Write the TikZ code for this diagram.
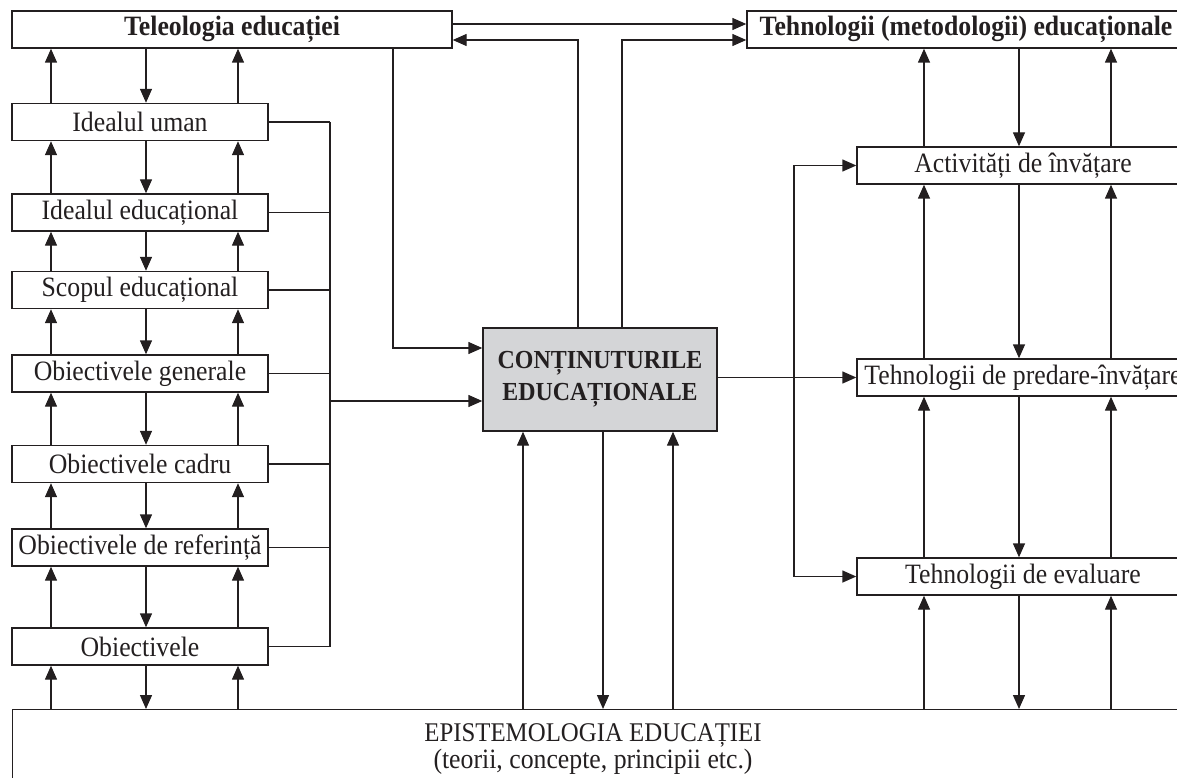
\documentclass[tikz,border=0pt]{standalone}
\usepackage{fontspec}
\setmainfont{Liberation Serif}[FakeStretch=0.92]
\usetikzlibrary{arrows.meta}
\definecolor{ink}{RGB}{35,31,32}
\definecolor{boxgray}{RGB}{212,213,215}
\begin{document}
\begin{tikzpicture}[x=1pt,y=-1pt,
  lnk/.style={draw=ink,line width=1.4pt},
  arr/.style={lnk,-{Triangle[length=14pt,width=12pt]}},
  box/.style={draw=ink,line width=1.4pt,inner sep=0pt,minimum height=37pt,text=ink,font=\fontsize{28}{32}\selectfont},
  lbox/.style={box,minimum width=256pt},
  rbox/.style={box,minimum width=332pt}]
\useasboundingbox (0,0) rectangle (1177,778);
\clip (0,0) rectangle (1177,778);
% nodes
\node[box,minimum width=440pt] (teleo) at (232,29.5) {\textbf{Teleologia educației}};
\node[lbox] (iu) at (140,122) {Idealul uman};
\node[lbox] (ie) at (140,212.5) {Idealul educațional};
\node[lbox] (se) at (140,290) {Scopul educațional};
\node[lbox] (og) at (140,373.5) {Obiectivele generale};
\node[lbox] (oc) at (140,464) {Obiectivele cadru};
\node[lbox] (oref) at (140,547.5) {Obiectivele de referință};
\node[lbox] (ob) at (140,646.5) {Obiectivele};
\node[box,minimum width=438pt] (tech) at (966,29.5) {\textbf{Tehnologii (metodologii) educaționale}};
\node[rbox] (act) at (1023,165.5) {Activități de învățare};
\node[rbox] (pred) at (1023,377.5) {Tehnologii de predare-învățare};
\node[rbox] (eval) at (1023,576.5) {Tehnologii de evaluare};
\node[box,fill=boxgray,minimum width=234pt,minimum height=103pt,align=center,font=\fontsize{26}{32}\selectfont\bfseries] (cont) at (600,379.5) {CONȚINUTURILE\\EDUCAȚIONALE};
\node[draw=ink,line width=1.4pt,minimum width=1200pt,minimum height=100pt,anchor=north west,inner sep=0pt] (epi) at (12,709) {};
\node[text=ink,align=center,inner sep=0pt,font=\fontsize{27}{24}\selectfont] (epitext) at (593,749) {EPISTEMOLOGIA EDUCAȚIEI\\{\fontsize{28}{24}\selectfont(teorii, concepte, principii etc.)}};
% guide coordinates
\coordinate (LA) at (51,0);
\coordinate (LB) at (146,0);
\coordinate (LC) at (238,0);
\coordinate (LV) at (330,0);
\coordinate (TD) at (393,0);
\coordinate (CA) at (578,0);
\coordinate (CB) at (622,0);
\coordinate (BA) at (523,0);
\coordinate (BB) at (603,0);
\coordinate (BC) at (673,0);
\coordinate (RV) at (794,0);
\coordinate (RA) at (924,0);
\coordinate (RB) at (1019,0);
\coordinate (RC) at (1111,0);
\coordinate (YA) at (0,24);
\coordinate (YB) at (0,40);
\coordinate (YC) at (0,348);
\coordinate (YD) at (0,401);
% left chain
\foreach \u/\l in {teleo/iu,iu/ie,ie/se,se/og,og/oc,oc/oref,oref/ob,ob/epi}{
  \draw[arr] (\l.north -| LA) -- (\u.south -| LA);
  \draw[arr] (\u.south -| LB) -- (\l.north -| LB);
  \draw[arr] (\l.north -| LC) -- (\u.south -| LC);
}
\foreach \n in {iu,ie,se,og,oc,oref,ob}{
  \draw[lnk] (\n.east) -- (\n.east -| LV);
}
\draw[lnk] (iu.east -| LV) -- (ob.east -| LV);
\draw[arr] (YD -| LV) -- (YD -| cont.west);
\draw[arr] (teleo.south -| TD) |- (YC -| cont.west);
% top links
\draw[arr] (teleo.east |- YA) -- (tech.west |- YA);
\draw[arr] (cont.north -| CA) |- (teleo.east |- YB);
\draw[arr] (cont.north -| CB) |- (tech.west |- YB);
% bottom centre
\draw[arr] (epi.north -| BA) -- (cont.south -| BA);
\draw[arr] (cont.south -| BB) -- (epi.north -| BB);
\draw[arr] (epi.north -| BC) -- (cont.south -| BC);
% right side
\draw[arr] (cont.east |- pred.west) -- (pred.west);
\draw[arr] (act.west -| RV) -- (act.west);
\draw[lnk] (act.west -| RV) -- (eval.west -| RV);
\draw[arr] (eval.west -| RV) -- (eval.west);
\foreach \u/\l in {tech/act,act/pred,pred/eval,eval/epi}{
  \draw[arr] (\l.north -| RA) -- (\u.south -| RA);
  \draw[arr] (\u.south -| RB) -- (\l.north -| RB);
  \draw[arr] (\l.north -| RC) -- (\u.south -| RC);
}
\end{tikzpicture}
\end{document}
